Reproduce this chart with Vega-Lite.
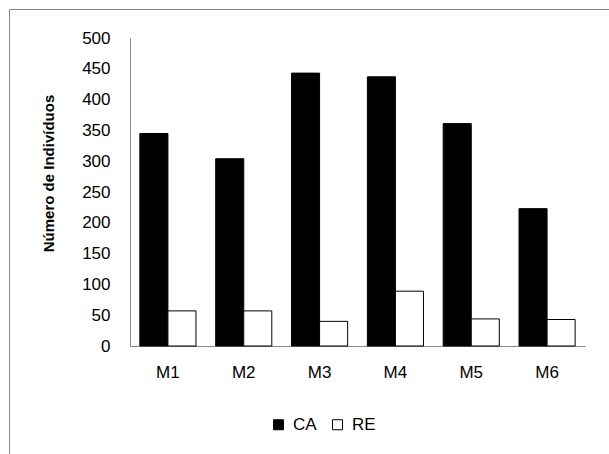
{
  "$schema": "https://vega.github.io/schema/vega-lite/v6.json",
  "autosize": {"type": "none"},
  "padding": {"left": 9, "top": 9, "right": -1, "bottom": -1},
  "width": 601,
  "height": 446,
  "config": {
    "font": "Liberation Sans",
    "view": {"stroke": "#868686", "strokeWidth": 1},
    "axis": {"domainColor": "#868686", "grid": false, "labelColor": "#000000", "titleColor": "#000000"}
  },
  "data": {
    "values": [
      {"m": "M1", "s": "CA", "v": 345},
      {"m": "M1", "s": "RE", "v": 57},
      {"m": "M2", "s": "CA", "v": 304},
      {"m": "M2", "s": "RE", "v": 57},
      {"m": "M3", "s": "CA", "v": 443},
      {"m": "M3", "s": "RE", "v": 40},
      {"m": "M4", "s": "CA", "v": 437},
      {"m": "M4", "s": "RE", "v": 89},
      {"m": "M5", "s": "CA", "v": 361},
      {"m": "M5", "s": "RE", "v": 44},
      {"m": "M6", "s": "CA", "v": 223},
      {"m": "M6", "s": "RE", "v": 43}
    ]
  },
  "mark": {"type": "bar", "stroke": "#000000", "strokeWidth": 1},
  "encoding": {
    "x": {
      "field": "m", "type": "nominal",
      "scale": {"range": [121, 576], "paddingInner": 0.26, "paddingOuter": 0.13},
      "axis": {"orient": "bottom", "offset": -109, "ticks": false, "labelPadding": 18, "labelFontSize": 17, "labelAngle": 0, "title": null, "domainColor": "#868686"}
    },
    "xOffset": {"field": "s", "type": "nominal", "scale": {"paddingInner": 0, "paddingOuter": 0}},
    "y": {
      "field": "v", "type": "quantitative",
      "scale": {"domain": [0, 500], "range": [337, 29], "nice": false},
      "axis": {"orient": "left", "offset": -121, "values": [0, 50, 100, 150, 200, 250, 300, 350, 400, 450, 500], "ticks": false, "labelPadding": 20, "labelFontSize": 17, "title": "Número de Indivíduos", "titleFontSize": 15, "titleFontWeight": "bold", "titlePadding": 25, "titleY": 164, "domainColor": "#868686"}
    },
    "fill": {
      "field": "s", "type": "nominal",
      "scale": {"domain": ["CA", "RE"], "range": ["#000000", "#ffffff"]},
      "legend": {"orient": "none", "legendX": 261, "legendY": 407, "direction": "horizontal", "title": null, "symbolType": "square", "symbolSize": 100, "symbolStrokeColor": "#000000", "symbolStrokeWidth": 1, "labelFontSize": 17, "labelOffset": 6, "columnPadding": 12, "padding": 0}
    }
  }
}
